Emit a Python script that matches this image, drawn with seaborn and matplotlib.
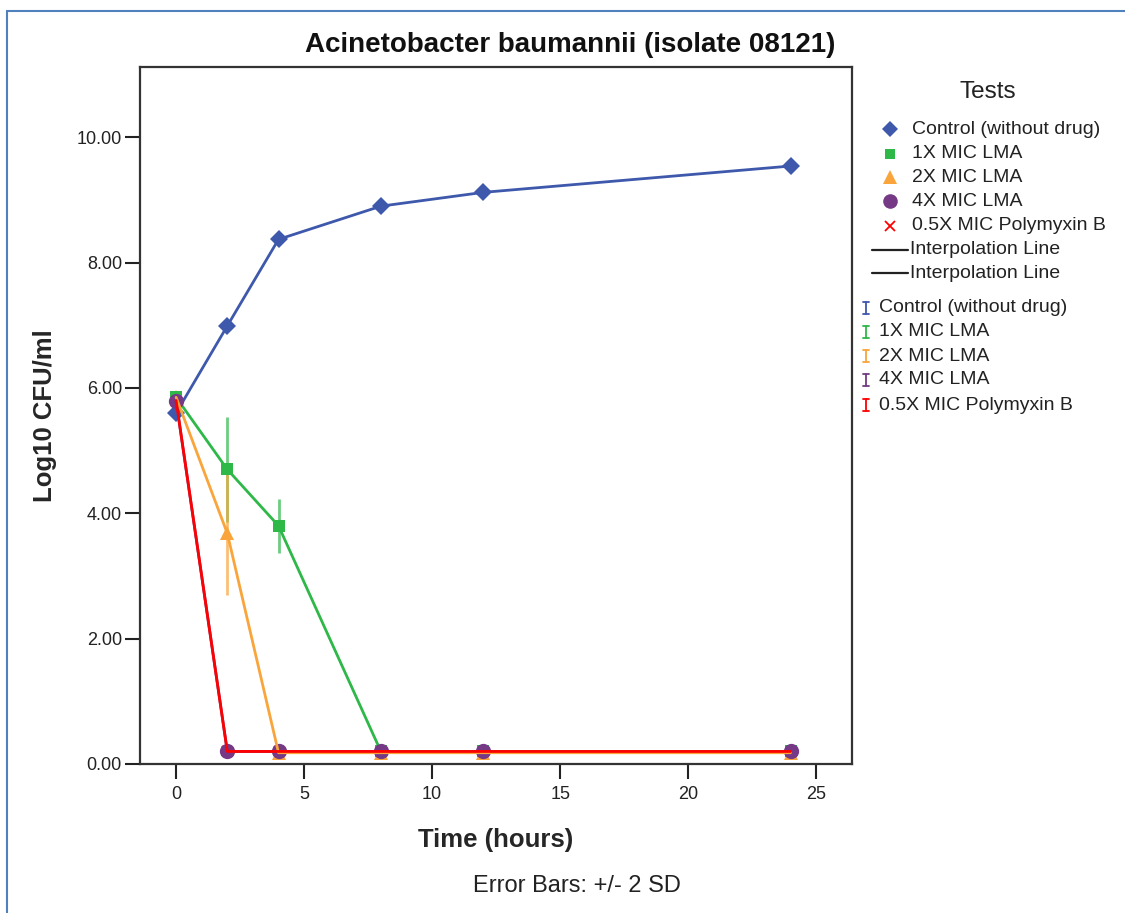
import numpy as np
import pandas as pd
import matplotlib
matplotlib.use("Agg")
import matplotlib.pyplot as plt
from matplotlib.lines import Line2D
import seaborn as sns

# ---------------- data ----------------
time_h = [0, 2, 4, 8, 12, 24]
tests = ["Control (without drug)", "1X MIC LMA", "2X MIC LMA", "4X MIC LMA", "0.5X MIC Polymyxin B"]
control = [5.60, 6.99, 8.37, 8.90, 9.12, 9.54]
mic1x = [5.85, 4.70, 3.80, 0.20, 0.20, 0.20]
mic2x = [5.85, 3.68, 0.18, 0.18, 0.18, 0.18]
mic4x = [5.79, 0.20, 0.20, 0.20, 0.20, 0.20]
polymyxin = [5.80, 0.20, 0.20, 0.20, 0.20, 0.20]
# +/- 2 SD half-widths
err_control = [0, 0, 0, 0, 0, 0]
err_1x = [0, 0.84, 0.43, 0, 0, 0]
err_2x = [0, 0.98, 0, 0, 0, 0]
err_4x = [0, 0, 0, 0, 0, 0]
err_poly = [0, 0, 0, 0, 0, 0]

values = [control, mic1x, mic2x, mic4x, polymyxin]
errors = [err_control, err_1x, err_2x, err_4x, err_poly]
colors = ["#3E58AC", "#2EB848", "#F9A53B", "#753985", "#FF0000"]
markers = ["D", "s", "^", "o", "x"]
msizes = [9, 8, 10, 11, 7]

df = pd.DataFrame({
    "Time": np.tile(time_h, len(tests)),
    "Value": np.concatenate(values),
    "Err": np.concatenate(errors),
    "Test": np.repeat(tests, len(time_h)),
})

# ---------------- figure ----------------
sns.set_theme(style="white")
plt.rcParams["font.family"] = ["Liberation Sans", "DejaVu Sans"]

fig = plt.figure(figsize=(11.25, 9.13), dpi=100)
ax = fig.add_axes([140 / 1125, 1 - 764 / 913, (852 - 140) / 1125, (764 - 67) / 913])

# z-order for lines and markers of each series
line_z = [3.0, 2.9, 3.3, 2.8, 3.4]
mark_z = [3.05, 2.95, 2.85, 3.1, 2.7]
for i in range(5):
    sub = df[df["Test"] == tests[i]]
    c = colors[i]
    e = sub[sub["Err"] > 0]
    if len(e):
        ax.errorbar(e["Time"], e["Value"], yerr=e["Err"], fmt="none",
                    ecolor=c, elinewidth=2, capsize=0, alpha=0.7, zorder=2.5)
    n0 = len(ax.lines)
    sns.lineplot(data=sub, x="Time", y="Value", ax=ax, color=c,
                 linewidth=2, errorbar=None, legend=False, sort=True)
    for ln in ax.lines[n0:]:
        ln.set_zorder(line_z[i])
    n1 = len(ax.lines)
    sns.lineplot(data=sub, x="Time", y="Value", ax=ax, color=c,
                 marker=markers[i], markersize=msizes[i], linestyle="none",
                 markeredgecolor=c, markeredgewidth=(1.5 if markers[i] == "x" else 0),
                 errorbar=None, legend=False, sort=True)
    for ln in ax.lines[n1:]:
        ln.set_zorder(mark_z[i])

ax.set_xlim(-1.41, 26.4)
ax.set_ylim(0, 11.12)
ax.set_xticks([0, 5, 10, 15, 20, 25])
ax.set_yticks([0, 2, 4, 6, 8, 10])
ax.set_yticklabels([f"{v:.2f}" for v in [0, 2, 4, 6, 8, 10]])
ax.tick_params(axis="both", which="major", direction="out", length=11, width=1.5,
               color="#222222", labelsize=13, labelcolor="#222222", bottom=True, left=True)
ax.tick_params(axis="x", pad=5)
ax.tick_params(axis="y", pad=2)
for s in ax.spines.values():
    s.set_color("#333333")
    s.set_linewidth(1.6)

ax.set_xlabel("Time (hours)", fontsize=18.5, fontweight="bold", labelpad=18)
ax.set_ylabel("Log10 CFU/ml", fontsize=18.5, fontweight="bold", labelpad=14)
ax.set_title("")

def fy(py):
    return 1 - py / 913

def fx(px):
    return px / 1125

fig.text(fx(570), fy(45), "Acinetobacter baumannii (isolate 08121)", ha="center",
         va="center", fontsize=20, fontweight="bold", color="#111111")

# footnote
fig.text(fx(577), fy(886), "Error Bars: +/- 2 SD", ha="center", va="center",
         fontsize=17, color="#222222")

# ---------------- legend (manual) ----------------
fig.text(fx(988), fy(92), "Tests", ha="center", va="center", fontsize=17.5, color="#222222")
leg_y = [129, 154, 177, 201, 226]
for i in range(5):
    fig.add_artist(Line2D([fx(890)], [fy(leg_y[i])], transform=fig.transFigure,
                          marker=markers[i], markersize=msizes[i] - 0.5, color=colors[i],
                          markeredgecolor=colors[i],
                          markeredgewidth=(1.3 if markers[i] == "x" else 0),
                          linestyle="none"))
    fig.text(fx(912), fy(leg_y[i]), tests[i], ha="left", va="center",
             fontsize=14, color="#222222")
for py in [250, 273]:
    fig.add_artist(Line2D([fx(872), fx(908)], [fy(py), fy(py)], transform=fig.transFigure,
                          color="#222222", linewidth=1.6))
    fig.text(fx(910), fy(py), "Interpolation Line", ha="left", va="center",
             fontsize=14, color="#222222")
err_y = [308, 332, 356, 380, 405]
for i in range(5):
    x0, yc, h, w = fx(866), fy(err_y[i]), 12 / 913, 3 / 1125
    c = colors[i]
    fig.add_artist(Line2D([x0, x0], [yc - h / 2, yc + h / 2], transform=fig.transFigure,
                          color=c, linewidth=1.3))
    for yy in (yc - h / 2, yc + h / 2):
        fig.add_artist(Line2D([x0 - w, x0 + w], [yy, yy], transform=fig.transFigure,
                              color=c, linewidth=1.3))
    fig.text(fx(879), fy(err_y[i]), tests[i], ha="left", va="center",
             fontsize=14, color="#222222")

# outer frame lines (top and left)
fig.add_artist(Line2D([fx(7), 1], [fy(11), fy(11)], transform=fig.transFigure,
                      color="#4F81BD", linewidth=1.5))
fig.add_artist(Line2D([fx(7), fx(7)], [0, fy(11)], transform=fig.transFigure,
                      color="#4F81BD", linewidth=1.5))

fig.savefig("out.png", dpi=100)
